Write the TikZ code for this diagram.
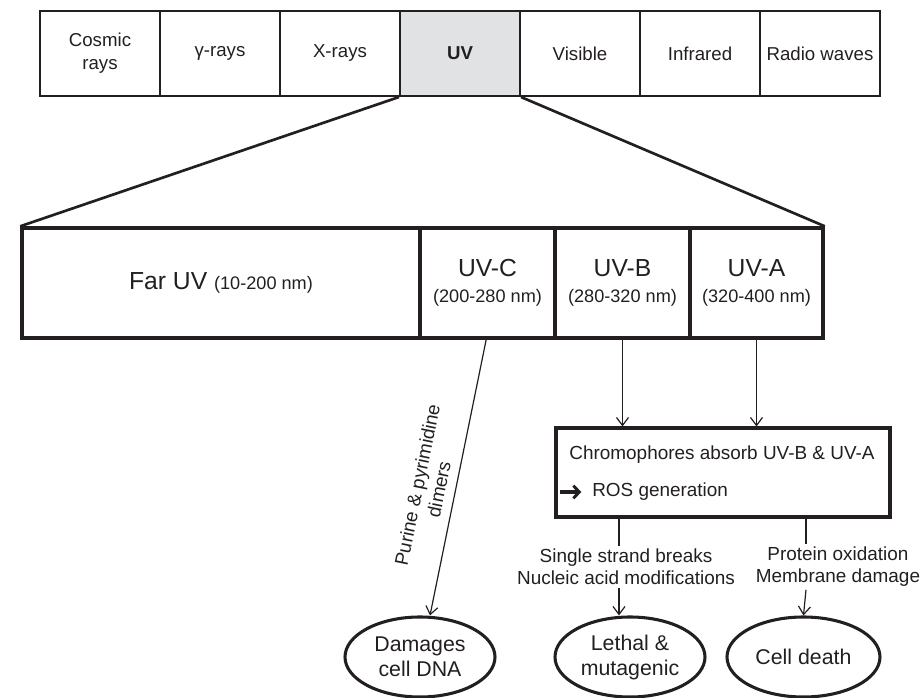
\documentclass[tikz,border=0pt]{standalone}
\usepackage{fontspec}
\setmainfont{Liberation Sans}
\usetikzlibrary{shapes.geometric,arrows.meta}
\definecolor{ink}{HTML}{231F20}
\definecolor{uvgray}{HTML}{E1E2E4}
\newcommand{\rngfont}{\fontsize{13.6}{15}\selectfont}
\begin{document}
\begin{tikzpicture}[x=0.75pt,y=-0.75pt,
  every node/.style={text=ink},
  topcell/.style={draw=ink, line width=1.6pt, minimum width=90pt, minimum height=63.75pt, inner sep=0pt, align=center, font=\fontsize{14}{17.25}\selectfont},
  uvcell/.style={draw=ink, line width=2.6pt, minimum height=82.5pt, inner sep=0pt, align=center, font=\fontsize{18.5}{19.5}\selectfont},
  bigbox/.style={draw=ink, line width=2.3pt, minimum width=250.5pt, minimum height=66.75pt, inner sep=0pt},
  txt/.style={inner sep=0pt, align=center, font=\fontsize{14.2}{16.5}\selectfont},
  oval/.style={ellipse, draw=ink, line width=2.3pt, minimum width=112.5pt, minimum height=60pt, inner sep=0pt, align=center, font=\fontsize{16}{18.75}\selectfont},
  fan/.style={draw=ink, line width=2pt},
  thinline/.style={draw=ink, line width=0.9pt},
  arr/.style={draw=ink, line width=0.9pt, -{Straight Barb[length=6pt,width=9pt,line width=0.9pt]}},
  rosarr/.style={draw=ink, line width=2.4pt, -{Straight Barb[length=4.5pt,width=9.5pt,line width=2.2pt]}}
]
\useasboundingbox (0,0) rectangle (922,698);

% electromagnetic spectrum bar
\node[topcell] (cosmic) at (100,53.5) {Cosmic\\rays};
\node[topcell] (gamma) at (220,53.5) {\raisebox{-2pt}{γ-rays}};
\node[topcell] (xrays) at (340,53.5) {X-rays};
\node[topcell, fill=uvgray, font=\fontsize{14}{17.25}\selectfont\bfseries] (uv) at (460,53.5) {UV};
\node[topcell] (visible) at (580,53.5) {Visible};
\node[topcell] (ir) at (700,53.5) {Infrared};
\node[topcell] (radio) at (820,53.5) {Radio waves};

% UV subdivision
\node[uvcell, minimum width=298.5pt] (far) at (221,283) {Far UV {\rngfont (10-200 nm)}};
\node[uvcell, minimum width=101.25pt] (uvc) at (487.5,283) {UV-C\\{\rngfont (200-280 nm)}};
\node[uvcell, minimum width=101.25pt] (uvb) at (622.5,283) {UV-B\\{\rngfont (280-320 nm)}};
\node[uvcell, minimum width=99.75pt] (uva) at (756.5,283) {UV-A\\{\rngfont (320-400 nm)}};

\draw[fan] (uv.south west) -- (far.north west);
\draw[fan] (uv.south east) -- (uva.north east);

% chromophore box
\node[bigbox] (chrom) at (723,472.5) {};
\node[txt] (chromtext) at (722,455) {Chromophores absorb UV-B \& UV-A};
\node[txt, anchor=west] (ros) at (592,492) {ROS generation};
\coordinate (rosstart) at (560,492);
\draw[rosarr] (rosstart) -- ([xshift=-8pt]ros.west);

\draw[arr] (uvb.south) -- (uvb.south |- chrom.north);
\draw[arr] (uva.south) -- (uva.south |- chrom.north);

% outcomes
\node[oval] (dna) at (420,657) {Damages\\cell DNA};
\node[oval] (lethal) at (630,657) {Lethal \&\\mutagenic};
\node[oval, minimum width=114.75pt] (death) at (803.5,657) {Cell death};

\node[txt, inner sep=2pt] (ssb) at (626,567) {Single strand breaks\\Nucleic acid modifications};
\node[txt, inner sep=2pt] (prot) at (838,567) {Protein oxidation\\Membrane damage};

\draw[arr] ([xshift=-1pt]uvc.south) -- ([xshift=7.5pt]dna.north);
\node[txt, rotate=78.4] (dimers) at (428,487) {Purine \& pyrimidine\\dimers};

\draw[thinline] ([xshift=-78pt]chrom.south) coordinate (jl) -- (jl |- ssb.north);
\draw[arr] (jl |- ssb.south) -- (jl |- lethal.north);
\draw[thinline] ([xshift=62.25pt]chrom.south) coordinate (jr) -- (jr |- prot.north);
\draw[arr] (jr |- prot.south) -- (death.north);
\end{tikzpicture}
\end{document}
